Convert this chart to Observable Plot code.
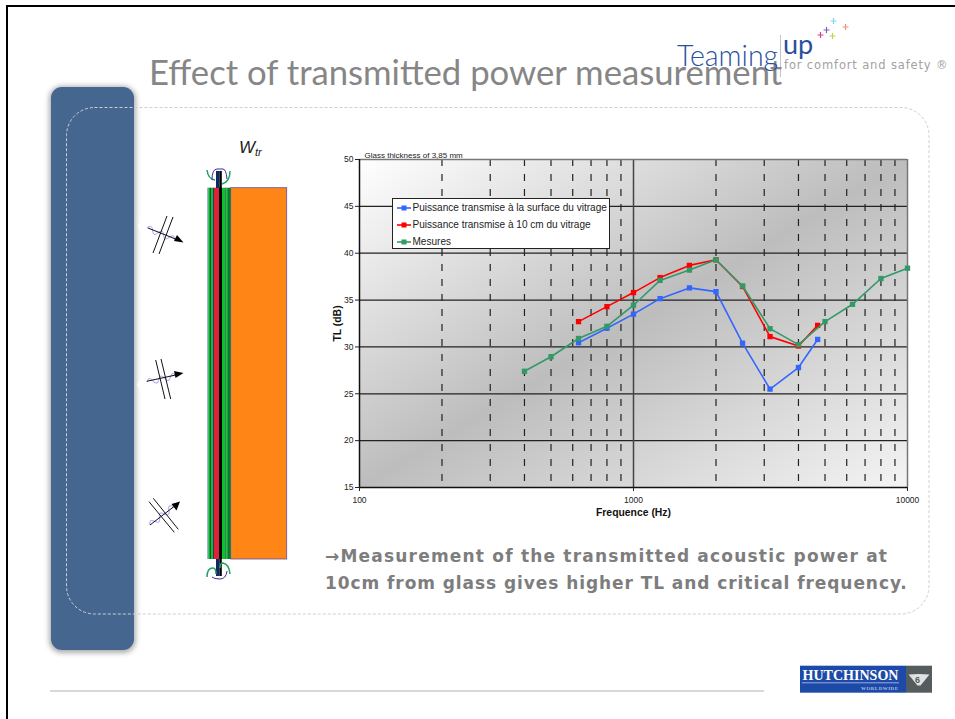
<!DOCTYPE html>
<html><head><meta charset="utf-8">
<script src="https://cdn.jsdelivr.net/npm/d3@7"></script>
<script src="https://cdn.jsdelivr.net/npm/@observablehq/plot@0.6"></script>
<style>
html,body{margin:0;padding:0;background:#fff;overflow:hidden}
#page{position:relative;width:955px;height:719px;overflow:hidden;font-family:"Liberation Sans",Arial,sans-serif}
#page>*{position:absolute}
#border{left:6px;top:5px;width:949px;height:714px;border-top:2px solid #000;border-left:2px solid #000;box-sizing:border-box}
#panel{left:51px;top:87px;width:83px;height:563px;background:#44668f;border-radius:11px;box-shadow:0 1px 5px 2px rgba(130,130,130,.65)}
#deco{left:0;top:0}
#title{left:149px;top:50px;font:400 34.7px/44px Lato,sans-serif;color:#868686;white-space:nowrap}
#teaming{left:677px;top:39px;font:300 28.5px/32px Lato,sans-serif;color:#2a4f9f;white-space:nowrap}
#up{left:783px;top:28px;font:400 27px/32px Lato,sans-serif;color:#2a4f9f}
#safety{left:784px;top:58px;font:11.5px/14px "DejaVu Sans",sans-serif;color:#a2a2a2;white-space:nowrap;letter-spacing:.85px}
#chart{left:320px;top:140px}
#legend{left:391.5px;top:198px;width:218px;height:51px;box-sizing:border-box;background:#fff;border:1.5px solid #222;font-size:10.05px;color:#222}
#legend div{position:absolute;left:4px;height:17px;line-height:17px;white-space:nowrap}
#legend svg{vertical-align:middle;margin-right:2px}
#note{left:325px;top:543px;width:625px;font:bold 17px/27px "DejaVu Sans",sans-serif;color:#7d7d7d;white-space:nowrap}
#wtr{left:239px;top:138px;font:italic 17px/20px "Liberation Sans",sans-serif;color:#222}
#wtr sub{font-size:11px;vertical-align:-3px;line-height:0}
</style></head>
<body><div id="page">
<div id="border"></div>
<div id="panel"></div>
<svg id="deco" width="955" height="719" viewBox="0 0 955 719">
  <rect x="66.5" y="107.5" width="862.5" height="506.5" rx="28" fill="none" stroke="#cfcfcf" stroke-dasharray="3 2"/>
  <line x1="50" x2="764" y1="691" y2="691" stroke="#b4b4b4"/>
  <line x1="780.5" x2="780.5" y1="35" y2="77" stroke="#c4c4c4"/>
  <g stroke-width="1.2" fill="none">
    <path d="M830.5 21h6M833.5 18v6" stroke="#86d4ea"/>
    <path d="M842.5 27h6M845.5 24v6" stroke="#f0936a"/>
    <path d="M823.5 30h6M826.5 27v6" stroke="#8560b0"/>
    <path d="M817.5 35h6M820.5 32v6" stroke="#d8408a"/>
    <path d="M829.5 36h6M832.5 33v6" stroke="#c4d44a"/>
  </g>
  <!-- glass section -->
  <rect x="230.7" y="187.7" width="56" height="371.3" fill="#ff8517" stroke="#5f4f9c" stroke-width=".8"/>
  <g>
    <rect x="207.5" y="187.7" width="1" height="371.3" fill="#3b6fa0"/>
    <rect x="208.5" y="187.7" width="1.5" height="371.3" fill="#08b02a"/>
    <rect x="210" y="187.7" width="1" height="371.3" fill="#06552f"/>
    <rect x="211" y="187.7" width="1.5" height="371.3" fill="#08c32a"/>
    <rect x="212.5" y="187.7" width="1.5" height="371.3" fill="#06552f"/>
    <rect x="214" y="187.7" width="5" height="371.3" fill="#dc2338"/>
    <rect x="219" y="187.7" width="3" height="371.3" fill="#000"/>
    <rect x="222" y="187.7" width="3.3" height="371.3" fill="#08c32a"/>
    <rect x="225.3" y="187.7" width="1.2" height="371.3" fill="#06552f"/>
    <rect x="226.5" y="187.7" width="1.5" height="371.3" fill="#08b02a"/>
    <rect x="228" y="187.7" width="2.7" height="371.3" fill="#0a7a35"/>
  </g>
  <rect x="216" y="171" width="3.4" height="17" fill="#0d2a66"/>
  <rect x="219.4" y="171" width="2.4" height="17" fill="#000"/>
  <rect x="216" y="559" width="3.4" height="17" fill="#0d2a66"/>
  <rect x="219.4" y="559" width="2.4" height="17" fill="#000"/>
  <g fill="none" stroke-width="1.5">
    <path d="M207 170q1 9 8 10" stroke="#22a060"/>
    <path d="M230 171q0 11-8 13" stroke="#22a060"/>
    <path d="M212 180q0-11 5-11h6q3 0 4 10" stroke="#3a2f9c" stroke-width="1"/>
    <path d="M207 577q0-9 6-9 3 0 3 6" stroke="#22a060"/>
    <path d="M230 574q-1-10-7-11-3 0-3 5" stroke="#22a060"/>
    <path d="M212 577q2 2 8 2t7-8" stroke="#3a2f9c" stroke-width="1"/>
  </g>
  <!-- incident waves -->
  <polygon points="137.7,224.3 166,212 180,245 152,257" fill="#fff"/>
  <polygon points="136.7,385 156,358 174,398 153,402" fill="#fff"/>
  <g fill="none" stroke="#a9a9f5" stroke-width="1">
    <path transform="translate(147,228) rotate(23)" d="M0 0q3-6 6 0t6 0 6 0 6 0 6 0"/>
    <path transform="translate(147,382) rotate(-12)" d="M0 0q3-6 6 0t6 0 6 0 6 0 6 0"/>
    <path transform="translate(150,525) rotate(-38)" d="M0 0q3-6 6 0t6 0 6 0 6 0 6 0"/>
  </g>
  <g stroke="#111" stroke-width="1" fill="#000">
    <line x1="167" y1="216" x2="153" y2="253"/><line x1="173" y1="217" x2="159" y2="254"/>
    <line x1="148" y1="228" x2="178" y2="240"/><path d="M183.5 242.5l-9.5-1.5 3-6z" stroke="none"/>
    <line x1="155.7" y1="360" x2="165" y2="399"/><line x1="161" y1="359" x2="170.7" y2="399"/>
    <line x1="146.7" y1="381.3" x2="178" y2="374.5"/><path d="M183.5 373l-8 5-1.500-7z" stroke="none"/>
    <line x1="149" y1="501.700" x2="174.3" y2="532.300"/><line x1="153.300" y1="498.300" x2="178.300" y2="529.300"/>
    <line x1="150" y1="525" x2="176" y2="505"/><path d="M180 501.500l-3.500 9-5-6.500z" stroke="none"/>
  </g>
  <!-- Hutchinson logo -->
  <rect x="800" y="665.700" width="106" height="27" fill="#1d4aa8"/>
  <rect x="906" y="665.700" width="26" height="27" fill="#555c60"/>
  <text x="802.500" y="680" font-family="Liberation Serif" font-weight="bold" font-size="13.800" fill="#fff" textLength="96" lengthAdjust="spacingAndGlyphs">HUTCHINSON</text>
  <line x1="802" x2="899" y1="682.800" y2="682.800" stroke="#cfd8f0" stroke-width=".7"/>
  <text x="861" y="689.500" font-family="Liberation Serif" font-weight="bold" font-size="5" fill="#aebce8" textLength="37">WORLDWIDE</text>
  <path d="M908.500 674.500q10-1 21 0l-9 11h-3z" fill="#dfe2e3"/>
  <text x="915" y="683" font-family="Liberation Sans" font-weight="bold" font-size="9" fill="#555c60">6</text>
</svg>
<div id="title">Effect of transmitted power measurement</div>
<div id="teaming">Teaming</div>
<div id="up">up</div>
<div id="safety">for comfort and safety ®</div>
<div id="wtr">W<sub>tr</sub></div>
<div id="chart"></div>
<div id="legend"></div>
<div id="note"><span style="letter-spacing:1.2px">→Measurement of the transmitted acoustic power at</span><br><span style="letter-spacing:.93px">10cm from glass gives higher TL and critical frequency.</span></div>
</div>
<script>
const surfaceFreq = [630,800,1000,1250,1600,2000,2500,3150,4000,4700];
const surfaceTL   = [30.45,32.0,33.5,35.15,36.3,35.9,30.4,25.5,27.8,30.8];
const tenCmFreq = [630,800,1000,1250,1600,2000,2500,3150,4000,4700];
const tenCmTL   = [32.7,34.3,35.8,37.4,38.7,39.3,36.45,31.1,30.1,32.3];
const measFreq = [400,500,630,800,1000,1250,1600,2000,2500,3150,4000,5000,6300,8000,10000];
const measTL   = [27.4,28.95,30.9,32.2,34.45,37.1,38.2,39.3,36.5,31.95,30.25,32.7,34.55,37.3,38.4];
const seriesNames = ["Puissance transmise à la surface du vitrage","Puissance transmise à 10 cm du vitrage","Mesures"];
const seriesColors = ["#3366ff","#ff0000","#339966"];
const xTicks = [100,1000,10000];
const yTicks = [15,20,25,30,35,40,45,50];
const minorFreqs = [200,300,400,500,600,700,800,900,2000,3000,4000,5000,6000,7000,8000,9000];
const innerY = [20,25,30,35,40,45];

const rows = (fs, vs) => fs.map((f,i) => ({f, v: vs[i]}));
const series = [rows(surfaceFreq,surfaceTL), rows(tenCmFreq,tenCmTL), rows(measFreq,measTL)];
const gradient = () => {
  const defs = d3.create("svg:defs");
  const g = defs.append("linearGradient").attr("id","plotBg").attr("x1",0).attr("y1",0).attr("x2",1).attr("y2",1);
  [[0,"#ffffff"],[.5,"#bdbdbd"],[1,"#f4f4f4"]].forEach(([o,c]) => g.append("stop").attr("offset",o).attr("stop-color",c));
  return defs.node();
};
const chart = Plot.plot({
  width: 620, height: 390,
  marginLeft: 39, marginRight: 33, marginTop: 19, marginBottom: 43,
  style: {fontFamily: '"Liberation Sans",Arial,sans-serif', fontSize: "8.5px", color: "#222", background: "transparent", overflow: "visible"},
  x: {type: "log", domain: [100,10000]},
  y: {domain: [15,50]},
  marks: [
    gradient,
    Plot.frame({fill: "url(#plotBg)", stroke: "none"}),
    Plot.ruleY(innerY, {stroke: "#222", strokeWidth: 1.3}),
    Plot.ruleX(minorFreqs, {stroke: "#222", strokeWidth: 1.2, strokeDasharray: "7 8"}),
    Plot.ruleX([1000], {stroke: "#444", strokeWidth: 1.5}),
    Plot.ruleY([50], {stroke: "#777", strokeWidth: 1.5}),
    Plot.ruleX([10000], {stroke: "#777", strokeWidth: 1.5}),
    Plot.ruleY([15], {stroke: "#111", strokeWidth: 1.5}),
    Plot.ruleX([100], {stroke: "#111", strokeWidth: 1.5}),
    Plot.axisX({ticks: xTicks, tickFormat: d => String(d), tickSize: 4, tickPadding: 5, label: null}),
    Plot.axisY({ticks: yTicks, tickSize: 4, tickPadding: 2, label: null}),
    ...series.flatMap((s,i) => [
      Plot.line(s, {x: "f", y: "v", stroke: seriesColors[i], strokeWidth: 1.6}),
      Plot.dot(s, {x: "f", y: "v", symbol: "square", r: 3, fill: seriesColors[i], stroke: "none"})
    ]),
    Plot.text(["Frequence (Hz)"], {frameAnchor: "bottom", dy: 28, fontWeight: "bold", fontSize: 10.4, fill: "#111"}),
    Plot.text(["TL (dB)"], {frameAnchor: "left", textAnchor: "middle", rotate: -90, dx: -22, fontWeight: "bold", fontSize: 10.4, fill: "#111"}),
    Plot.text(["Glass thickness of 3,85 mm"], {frameAnchor: "top-left", dx: 5, dy: -2, lineAnchor: "bottom", fontSize: 8, fill: "#222"})
  ]
});
document.getElementById("chart").appendChild(chart);
const legend = document.getElementById("legend");
seriesNames.forEach((n,i) => {
  const row = document.createElement("div");
  row.style.top = (i*17 - .5) + "px";
  const c = seriesColors[i];
  row.innerHTML = `<svg width="14" height="6"><line x1="0" x2="14" y1="3" y2="3" stroke="${c}" stroke-width="1.6"/><rect x="4.500" y="0.500" width="5" height="5" fill="${c}"/></svg>${n}`;
  legend.appendChild(row);
});
</script>
</body></html>
